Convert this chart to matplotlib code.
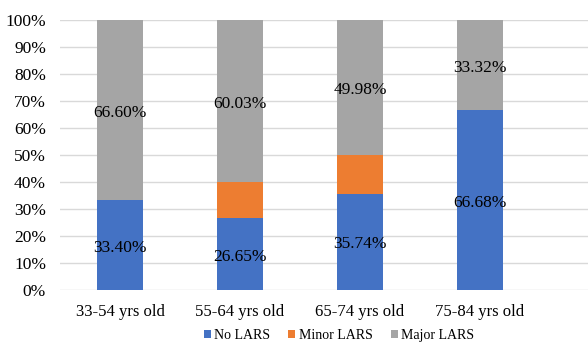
import matplotlib
matplotlib.use("Agg")
import matplotlib.pyplot as plt
import numpy as np

categories = ["33-54 yrs old", "55-64 yrs old", "65-74 yrs old", "75-84 yrs old"]
no_lars = [33.40, 26.65, 35.74, 66.68]
minor_lars = [0.0, 13.32, 14.28, 0.0]
major_lars = [66.60, 60.03, 49.98, 33.32]
series_names = ["No LARS", "Minor LARS", "Major LARS"]
colors = ["#4472C4", "#ED7D31", "#A5A5A5"]

plt.rcParams['font.family'] = ['Liberation Serif', 'DejaVu Serif']

fig = plt.figure(figsize=(5.88, 3.44), dpi=100)
ax = fig.add_axes([60/588, 54/344, 528/588, 270/344])

x = np.arange(len(categories))
w = 0.39
no = np.array(no_lars)
mi = np.array(minor_lars)
ma = np.array(major_lars)

b1 = ax.bar(x, no, w, color=colors[0], label=series_names[0], zorder=3)
b2 = ax.bar(x, mi, w, bottom=no, color=colors[1], label=series_names[1], zorder=3)
b3 = ax.bar(x, ma, w, bottom=no + mi, color=colors[2], label=series_names[2], zorder=3)

for i in range(len(categories)):
    ax.text(x[i], no[i] / 2 - 1, f"{no_lars[i]:.2f}%", ha='center', va='center', fontsize=12.5, color='black', zorder=4)
    ax.text(x[i], no[i] + mi[i] + ma[i] / 2 - 1, f"{major_lars[i]:.2f}%", ha='center', va='center', fontsize=12.5, color='black', zorder=4)

ax.set_xlim(-0.5, 3.9)
ax.set_ylim(0, 100)
ax.set_yticks(np.arange(0, 101, 10))
ax.set_yticklabels([f"{v}%" for v in range(0, 101, 10)], fontsize=12.5)
ax.set_xticks(x)
ax.set_xticklabels(categories, fontsize=12)
ax.tick_params(length=0)
ax.tick_params(axis='y', pad=10)
ax.tick_params(axis='x', pad=10)
ax.grid(axis='y', color='#D9D9D9', linewidth=1, zorder=0)
for s in ax.spines.values():
    s.set_visible(False)

fig.legend(handles=[b1, b2, b3], labels=series_names, loc='lower center',
           bbox_to_anchor=(339/588, -0.03), ncol=3, frameon=False, fontsize=10,
           handlelength=0.5, handleheight=0.5, handletextpad=0.25, columnspacing=1.3)

fig.savefig("out.png", dpi=100)
